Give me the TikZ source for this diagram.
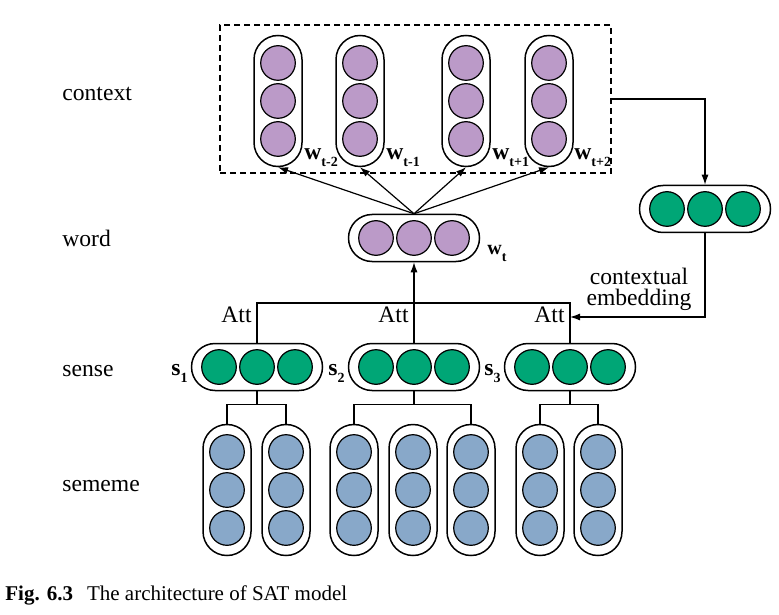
\documentclass[tikz,border=0pt]{standalone}
\usepackage{fontspec}
\setmainfont{Liberation Serif}
\usepackage{tikz}
\usetikzlibrary{arrows.meta}

\definecolor{wordpurple}{RGB}{187,154,200}
\definecolor{sensegreen}{RGB}{0,166,118}
\definecolor{semeblue}{RGB}{136,168,201}
\newcommand{\labfont}{\fontsize{11.8}{10.6}\selectfont}
\newcommand{\lowidx}[1]{\raisebox{-3.5pt}{\fontsize{7}{7}\selectfont #1}}

\begin{document}
\begin{tikzpicture}[x=0.5pt, y=-0.5pt,
    vcap/.style={draw, line width=0.75pt, rounded corners=12pt,
                 minimum width=24pt, minimum height=65.5pt, inner sep=0pt},
    hcap/.style={draw, line width=0.75pt, rounded corners=11.75pt,
                 minimum width=65.5pt, minimum height=23.5pt, inner sep=0pt},
    unit/.style={circle, draw, line width=0.6pt, minimum size=17.3pt, inner sep=0pt},
    layer/.style={font=\labfont, anchor=base west, inner sep=0pt},
    vlab/.style={font=\labfont\bfseries, anchor=base west, inner sep=0pt},
    link/.style={line width=0.6pt},
    arr/.style={link, -{Latex[length=5pt, width=3.5pt]}}
]
    \useasboundingbox (0,0) rectangle (779,614);

    % layer names
    \node[layer] (lcontext) at (62,101) {context};
    \node[layer] (lword) at (62,246) {word};
    \node[layer] (lsense) at (62,376) {sense};
    \node[layer] (lsememe) at (62,491) {sememe};

    % context window
    \node[draw, dash pattern=on 3pt off 2pt, line width=0.6pt, minimum width=195.5pt,
          minimum height=74pt, inner sep=0pt] (ctxbox) at (415.5,99) {};
    \foreach \n/\x in {1/278, 2/360, 3/466, 4/549} {
        \node[vcap] (ctx\n) at (\x,101) {};
        \foreach \k/\y in {1/63, 2/101, 3/139}
            \node[unit, fill=wordpurple] (ctx\n-\k) at (\x,\y) {};
    }
    \foreach \n/\x/\i in {1/304/t-2, 2/386/t-1, 3/492/t+1, 4/574/t+2}
        \node[vlab] (lw\n) at (\x,160) {w\lowidx{\i}};

    % target word
    \node[hcap] (word) at (414,238) {};
    \foreach \k/\x in {1/376, 2/414, 3/452}
        \node[unit, fill=wordpurple] (word-\k) at (\x,238) {};
    \node[vlab, font=\fontsize{10}{10}\selectfont\bfseries] (lwt) at (487,254) {w\lowidx{t}};
    \foreach \n in {1,...,4}
        \draw[arr] (word.north) -- (ctx\n.south);

    % contextual embedding
    \node[hcap] (cemb) at (705,209) {};
    \foreach \k/\x in {1/667, 2/705, 3/743}
        \node[unit, fill=sensegreen] (cemb-\k) at (\x,209) {};
    \draw[arr] (ctxbox.east) -| (cemb.north);
    \node[font=\labfont, align=center, inner sep=0pt] (celab) at (639,289)
        {contextual\\embedding};

    % senses
    \foreach \n/\x in {1/257, 2/414, 3/570} {
        \node[hcap] (sen\n) at (\x,367) {};
        \foreach \k/\d in {1/-38, 2/0, 3/38}
            \node[unit, fill=sensegreen] (sen\n-\k) at (\x+\d,367) {};
        \node[vlab, anchor=base east] (ls\n) at (\x-69,375) {s\lowidx{\n}};
        \node[layer, anchor=base east] (att\n) at (\x-5,322) {Att};
    }
    \coordinate (join) at (414,303);
    \coordinate (att3in) at (570,317);
    \draw[link] (sen1.north) |- (join) -| (sen3.north);
    \draw[arr] (sen2.north) -- (word.south);
    \draw[arr] (cemb.south) |- (att3in);

    % sememes
    \foreach \n/\x in {1/227, 2/286, 3/354, 4/413, 5/471, 6/540, 7/598} {
        \node[vcap] (sem\n) at (\x,490) {};
        \foreach \k/\y in {1/452, 2/490, 3/528}
            \node[unit, fill=semeblue] (sem\n-\k) at (\x,\y) {};
    }
    \foreach \s/\a/\b in {1/1/2, 2/3/5, 3/6/7} {
        \draw[link] (sen\s.south) -- ++(0,13) coordinate (fork\s);
        \draw[link] (sem\a.north) |- (fork\s) -| (sem\b.north);
    }

    \node[layer, font=\fontsize{10.5}{12}\selectfont] (cap) at (5,600)
        {\textbf{Fig. 6.3}\hspace{7pt}The architecture of SAT model};
\end{tikzpicture}
\end{document}
